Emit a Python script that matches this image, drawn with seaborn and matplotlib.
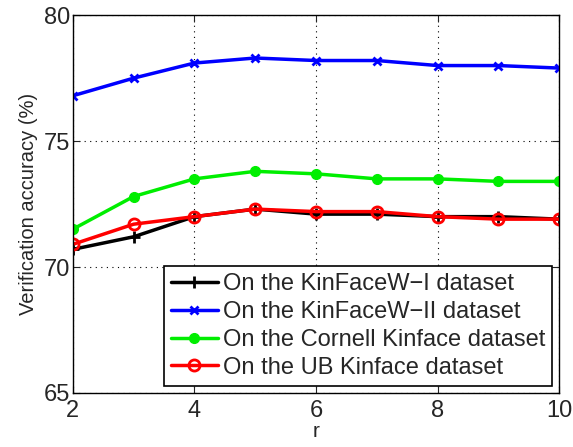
import matplotlib
matplotlib.use("Agg")
import matplotlib.pyplot as plt
import seaborn as sns
import pandas as pd

r_values = [2, 3, 4, 5, 6, 7, 8, 9, 10]
kinfacew1 = [70.7, 71.2, 72.0, 72.3, 72.1, 72.1, 72.0, 72.0, 71.9]
kinfacew2 = [76.8, 77.5, 78.1, 78.3, 78.2, 78.2, 78.0, 78.0, 77.9]
cornell = [71.5, 72.8, 73.5, 73.8, 73.7, 73.5, 73.5, 73.4, 73.4]
ub = [70.9, 71.7, 72.0, 72.3, 72.2, 72.2, 72.0, 71.9, 71.9]
labels = ["On the KinFaceW\u2212I dataset", "On the KinFaceW\u2212II dataset",
          "On the Cornell Kinface dataset", "On the UB Kinface dataset"]

sns.set_style("ticks")
plt.rcParams['font.family'] = ['Liberation Sans', 'DejaVu Sans']

fig = plt.figure(figsize=(5.73, 4.47), dpi=100)
ax = fig.add_axes([0.127, 0.121, 0.849, 0.845])

styles = [
    dict(color="black", marker="+", markersize=8, mew=2, mfc="black"),
    dict(color="blue", marker="x", markersize=6, mew=2, mfc="blue"),
    dict(color="#00ee00", marker="o", markersize=7, mew=1, mfc="#00ee00"),
    dict(color="red", marker="o", markersize=8, mew=2, mfc="none"),
]
series = [kinfacew1, kinfacew2, cornell, ub]
for vals, lab, st in zip(series, labels, styles):
    df = pd.DataFrame({"r": r_values, "acc": vals})
    sns.lineplot(data=df, x="r", y="acc", ax=ax, label=lab, linewidth=2.5,
                 color=st["color"], marker=st["marker"], markersize=st["markersize"],
                 markeredgewidth=st["mew"], markerfacecolor=st["mfc"],
                 markeredgecolor=st["color"])

ax.set_xlim(2, 10)
ax.set_ylim(65, 80)
ax.set_xticks([2, 4, 6, 8, 10])
ax.set_yticks([65, 70, 75, 80])
ax.grid(True, linestyle=(0, (1, 4)), color="black", linewidth=0.8)
ax.tick_params(direction="in", labelsize=17, top=True, right=True, length=5)
ax.tick_params(axis="y", pad=2)
ax.tick_params(axis="x", pad=5)
for s in ax.spines.values():
    s.set_linewidth(1.0)
    s.set_color("black")
ax.set_xlabel("r", fontsize=15, labelpad=0)
ax.set_ylabel("Verification accuracy (%)", fontsize=14.5, labelpad=4)
leg = ax.legend(loc="lower right", fontsize=17, frameon=True, fancybox=False,
                edgecolor="black", framealpha=1, borderpad=0.3, labelspacing=0.25,
                handlelength=2.0, handletextpad=0.2, borderaxespad=0.3)
leg.get_frame().set_linewidth(1.2)
fig.savefig("out.png", dpi=100)
